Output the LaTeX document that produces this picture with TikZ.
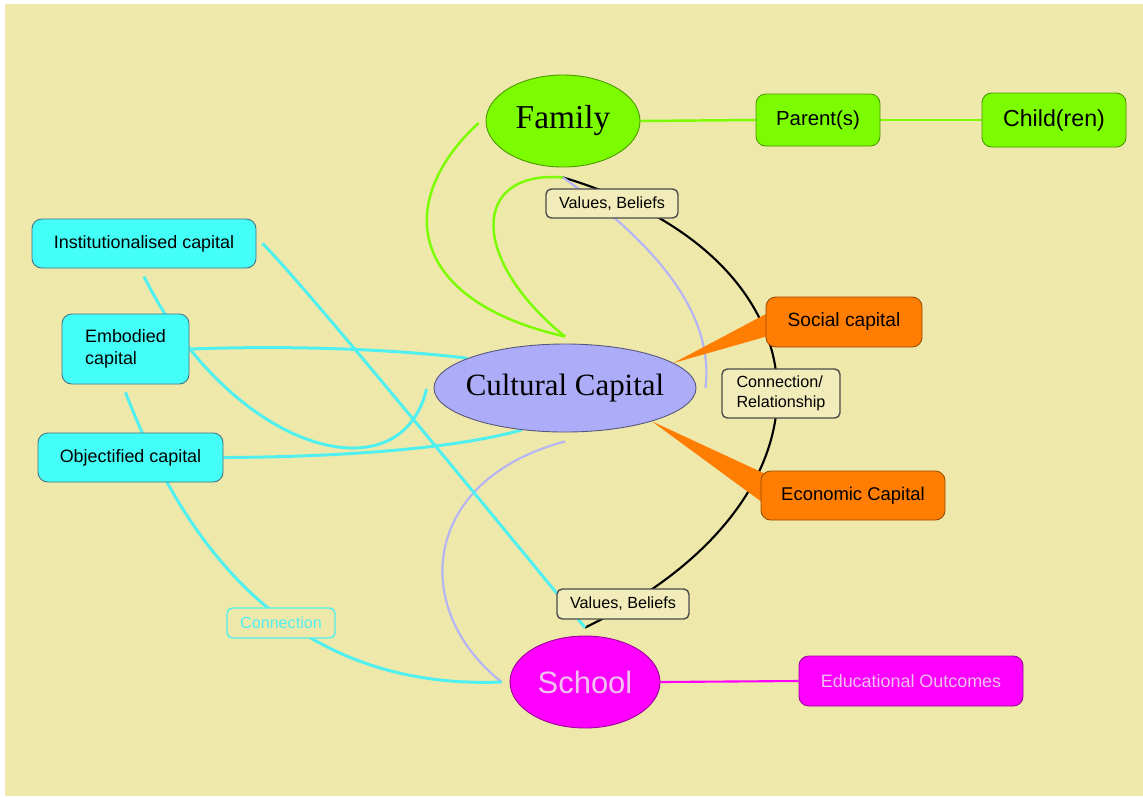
\documentclass[tikz,border=0pt]{standalone}
\usepackage{fontspec}
\setmainfont{Liberation Serif}
\setsansfont{Liberation Sans}
\usetikzlibrary{shapes.geometric,calc}

\definecolor{paper}{RGB}{238,232,170}
\definecolor{capcyan}{RGB}{68,255,248}
\definecolor{cyanline}{RGB}{80,240,240}
\definecolor{famgreen}{RGB}{124,252,0}
\definecolor{lav}{RGB}{172,172,248}
\definecolor{lavline}{RGB}{180,180,246}
\definecolor{orng}{RGB}{255,125,0}
\definecolor{mag}{RGB}{255,0,255}
\definecolor{schooltext}{RGB}{240,192,240}
\definecolor{tagfill}{RGB}{242,236,186}

\pgfdeclarelayer{back}
\pgfdeclarelayer{links}
\pgfsetlayers{back,links,main}

\def\pxl{0.02cm}
\newcommand\fsz[2]{\fontsize{#1}{#2}\selectfont}

\tikzset{
  wh/.style 2 args={minimum width=#1*\pxl,minimum height=#2*\pxl},
  blob/.style={ellipse,draw,inner sep=0pt,line width=0.5pt},
  capbox/.style={rectangle,rounded corners=5.5pt,draw,inner sep=0pt,line width=0.5pt,font=\sffamily\fsz{10.2}{12.5}},
  tagbox/.style={rectangle,rounded corners=3pt,draw=black!70,fill=tagfill,inner sep=0pt,line width=0.8pt,font=\sffamily\fsz{9.2}{11.3}},
  cyanlink/.style={draw=cyanline,line width=1.7pt},
  greenlink/.style={draw=famgreen,line width=1.4pt},
  lavlink/.style={draw=lavline,line width=1.2pt},
}

\begin{document}
\begin{tikzpicture}[x=0.02cm,y=-0.02cm]
\useasboundingbox (0,0) rectangle (1143,796);

% main shapes
\node[blob,fill=famgreen,draw=famgreen!60!black,wh={154}{92},font=\fsz{19}{22}] (family) at (563,121) {Family};
\node[blob,fill=lav,draw=lav!50!black,inner sep=-7pt,wh={262}{88},font=\fsz{17.6}{20}] (cc) at (565,388) {Cultural Capital};
\node[blob,fill=mag,draw=mag!60!black,wh={150}{92},font=\sffamily\fsz{17.6}{20},text=schooltext] (school) at (585,682) {School};

% family side
\node[capbox,fill=famgreen,draw=famgreen!60!black,wh={124}{52},font=\sffamily\fsz{11.6}{13}] (parent) at (818,120) {Parent(s)};
\node[capbox,fill=famgreen,draw=famgreen!60!black,wh={144}{54},font=\sffamily\fsz{13.2}{15}] (child) at (1054,120) {Child(ren)};

% forms of capital
\node[capbox,fill=capcyan,draw=cyan!45!black,wh={224}{49}] (inst) at (144,243.5) {Institutionalised capital};
\node[capbox,fill=capcyan,draw=cyan!45!black,wh={127}{70},align=left] (emb) at (125.5,349) {Embodied\\capital};
\node[capbox,fill=capcyan,draw=cyan!45!black,wh={185}{49}] (obj) at (130.5,457.5) {Objectified capital};
\node[capbox,fill=orng,draw=orng!60!black,wh={156}{50},font=\sffamily\fsz{10.9}{13}] (social) at (844,322) {Social capital};
\node[capbox,fill=orng,draw=orng!60!black,wh={184}{49},font=\sffamily\fsz{10.5}{13}] (econ) at (853,495.5) {Economic Capital};
\node[capbox,fill=mag,draw=mag!60!black,wh={224}{50},text=schooltext] (edu) at (911,681) {Educational Outcomes};

% loose ends
\coordinate (famL) at ($(family.west)+(-7,2)$);
\coordinate (famS) at ($(family.south)+(0,10)$);
\coordinate (ccN) at ($(cc.north)+(0,-7)$);
\coordinate (ccE) at ($(cc.east)+(9,0)$);
\coordinate (ccS) at ($(cc.south)+(0,9)$);
\coordinate (ccW) at ($(cc.west)+(-7,1)$);
\coordinate (schN) at ($(school.north)+(0,-8)$);
\coordinate (schW) at ($(school.west)+(-8,0)$);
\coordinate (instE) at ($(inst.east)+(6,0)$);
\coordinate (instS) at ($(inst.south)+(0,8)$);
\coordinate (embS) at ($(emb.south)+(0,8)$);

\begin{pgfonlayer}{back}
  \fill[white] (0,0) rectangle (1143,796);
  \fill[paper] (5,4) rectangle (1143,796);
\end{pgfonlayer}

\begin{pgfonlayer}{links}
  \draw[greenlink] (family.east) -- (parent.west);
  \draw[greenlink] (parent) -- (child);
  \draw[greenlink] (famL) .. controls (395,200) and (405,300) .. (ccN);
  \draw[greenlink] (famS) .. controls (470,170) and (470,260) .. (ccN);
  \draw[black,line width=1.2pt] (famS) .. controls (840,260) and (850,500) .. (schN);
  \draw[lavlink] (famS) .. controls (650,240) and (715,310) .. (ccE);
  \draw[lavlink] (ccS) .. controls (420,480) and (410,610) .. (schW);
  \draw[cyanlink] (instE) .. controls (300,280) and (480,500) .. (schN);
  \draw[cyanlink] (instS) .. controls (230,450) and (400,500) .. (ccW);
  \draw[cyanlink] (emb.east) .. controls (300,345) and (400,350) .. (cc.163);
  \draw[cyanlink] (obj.east) .. controls (330,457) and (450,450) .. (cc.224);
  \draw[cyanlink] (embS) .. controls (190,560) and (300,690) .. (schW);
  \draw[mag,line width=1.2pt] (school.east) -- (edu.west);
  \fill[orng] (cc.13) -- ($(social.west)+(6,-11)$) -- ($(social.west)+(6,13)$) -- cycle;
  \fill[orng] (cc.-21) -- ($(econ.west)+(6,-21)$) -- ($(econ.west)+(6,10)$) -- cycle;
\end{pgfonlayer}

% labels on the links
\node[tagbox,wh={132}{29}] (vbtop) at (612,203.5) {Values, Beliefs};
\node[tagbox,wh={132}{30}] (vbbot) at (623,604) {Values, Beliefs};
\node[tagbox,wh={118}{49},align=left] (rel) at (781,393.5) {Connection/\\Relationship};
\node[tagbox,fill=paper,draw=cyanline,text=cyanline,wh={108}{30}] (conn) at (281,623) {Connection};
\end{tikzpicture}
\end{document}
